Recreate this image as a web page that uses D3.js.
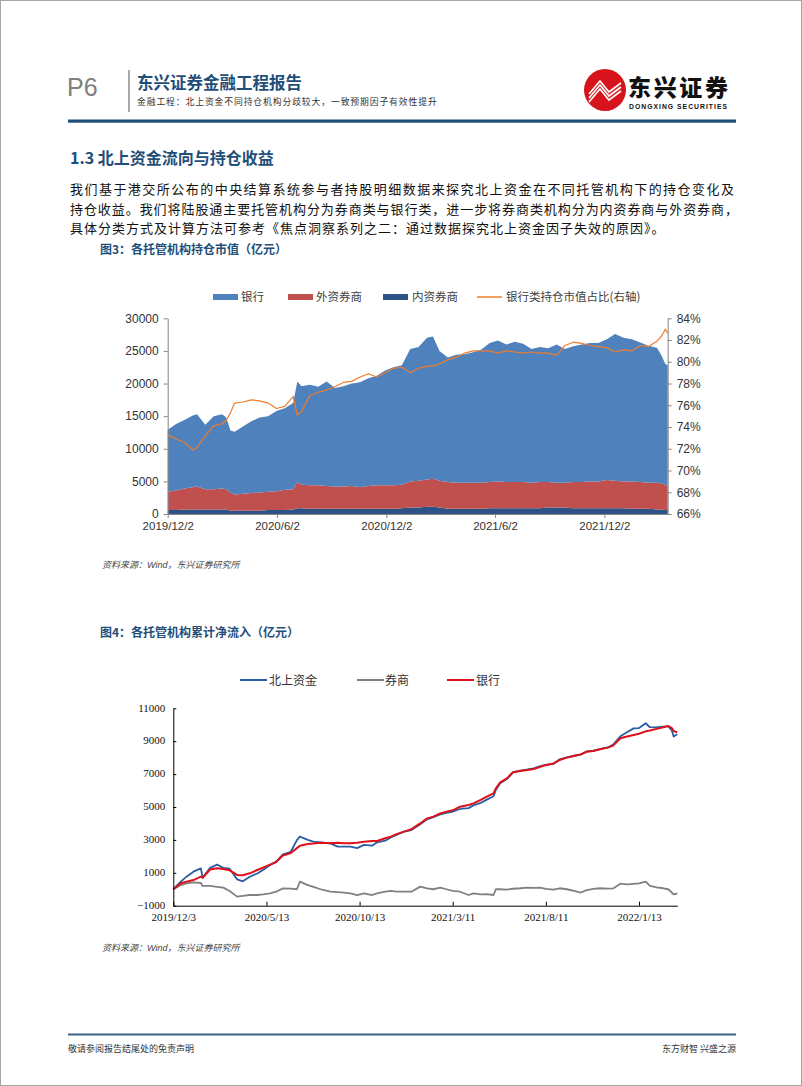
<!DOCTYPE html>
<html><head><meta charset="utf-8">
<script src="https://cdn.jsdelivr.net/npm/d3@7"></script>
<style>
html,body{margin:0;padding:0;background:#fff;}
svg{display:block;}
</style></head>
<body><svg id="page" width="802" height="1086"></svg>
<script>
// ---------------- DATA: chart 1 (各托管机构持仓市值, 亿元) ----------------
const dates1 = ["2019-12-02","2019-12-16","2019-12-30","2020-01-13","2020-01-20","2020-02-03","2020-02-17","2020-03-02","2020-03-09","2020-03-16","2020-03-23","2020-04-06","2020-04-20","2020-05-04","2020-05-18","2020-06-01","2020-06-15","2020-06-29","2020-07-06","2020-07-13","2020-07-27","2020-08-10","2020-08-24","2020-09-07","2020-09-21","2020-10-05","2020-10-19","2020-11-02","2020-11-16","2020-11-30","2020-12-14","2020-12-28","2021-01-11","2021-01-25","2021-02-08","2021-02-18","2021-03-01","2021-03-15","2021-03-29","2021-04-12","2021-04-26","2021-05-10","2021-05-24","2021-06-07","2021-06-21","2021-07-05","2021-07-19","2021-08-02","2021-08-16","2021-08-30","2021-09-13","2021-09-27","2021-10-11","2021-10-25","2021-11-08","2021-11-22","2021-12-06","2021-12-20","2022-01-03","2022-01-17","2022-01-31","2022-02-14","2022-02-28","2022-03-07","2022-03-14","2022-03-18"];
const bank1 = [9500,10200,10500,11000,11100,9900,11200,11400,11000,9500,9600,10300,11000,11500,11600,12300,12500,13200,15400,15100,15400,15100,16000,15100,15400,15700,16100,16500,16800,17600,18100,18300,20300,20500,21700,21800,19900,19100,19600,19700,20000,20400,21300,21600,21100,21500,21200,20500,20700,20500,21200,20500,20800,21100,21200,21200,21600,22500,22000,21800,21400,21000,20700,19700,18500,18500];
const foreign1 = [2800,3000,3200,3400,3500,3100,3100,3200,3100,2800,2500,2600,2700,2800,2800,2900,3100,3100,4000,3600,3600,3600,3500,3400,3400,3500,3300,3500,3600,3600,3600,3600,4000,4100,4200,4300,4100,4100,4000,4000,4000,4000,4000,4100,4000,4000,4000,3900,4000,3900,3800,3800,4000,4000,4100,4100,4300,4200,4100,4200,4100,4000,4100,4000,3900,3700];
const domestic1 = [600,600,700,700,700,700,700,700,700,500,500,500,500,500,600,600,600,700,900,900,800,800,800,800,800,800,800,800,800,800,800,900,1000,1000,1100,1100,1000,800,800,800,800,800,900,900,900,900,900,900,900,1000,1000,1000,900,900,900,900,900,900,900,800,800,800,700,700,600,600];
const ratio1 = [73.3,72.9,72.6,71.9,72.1,73.2,74.1,74.3,74.6,75.3,76.2,76.3,76.5,76.4,76.2,75.7,75.9,76.8,75.1,75.4,76.9,77.2,77.4,77.7,78.1,78.2,78.6,78.9,78.6,79.0,79.4,79.5,79.0,79.4,79.6,79.6,79.8,80.2,80.4,80.8,81.0,81.0,81.0,80.8,81.0,80.9,80.8,80.9,80.8,80.8,80.6,81.5,81.8,81.7,81.5,81.4,81.3,80.9,81.1,81.0,81.5,81.4,81.9,82.3,83.0,82.6];
const seriesNames1 = ["银行","外资券商","内资券商","银行类持仓市值占比(右轴)"];
const yTicks1 = [0,5000,10000,15000,20000,25000,30000];
const rTicks1 = [66,68,70,72,74,76,78,80,82,84];
const xTicks1 = ["2019-12-02","2020-06-02","2020-12-02","2021-06-02","2021-12-02"];
const xTickLabels1 = ["2019/12/2","2020/6/2","2020/12/2","2021/6/2","2021/12/2"];

// ---------------- DATA: chart 2 (各托管机构累计净流入, 亿元) ----------------
const dates2 = ["2019-12-03","2019-12-16","2019-12-26","2020-01-07","2020-01-20","2020-01-23","2020-02-05","2020-02-17","2020-02-28","2020-03-10","2020-03-23","2020-04-02","2020-04-14","2020-04-27","2020-05-07","2020-05-19","2020-05-29","2020-06-09","2020-06-22","2020-07-02","2020-07-07","2020-07-20","2020-07-29","2020-08-10","2020-08-26","2020-09-07","2020-09-17","2020-09-28","2020-10-09","2020-10-20","2020-11-02","2020-11-10","2020-11-23","2020-12-02","2020-12-11","2020-12-23","2021-01-04","2021-01-18","2021-01-29","2021-02-08","2021-02-19","2021-03-01","2021-03-11","2021-03-23","2021-04-06","2021-04-14","2021-04-26","2021-05-06","2021-05-17","2021-05-21","2021-05-28","2021-06-08","2021-06-18","2021-06-30","2021-07-12","2021-07-22","2021-08-02","2021-08-11","2021-08-24","2021-09-03","2021-09-15","2021-09-27","2021-10-08","2021-10-18","2021-10-29","2021-11-09","2021-11-22","2021-12-01","2021-12-13","2021-12-24","2022-01-04","2022-01-13","2022-01-24","2022-01-31","2022-02-11","2022-02-22","2022-03-02","2022-03-08","2022-03-11","2022-03-17"];
const north2 = [0,460,765,1070,1270,700,1300,1500,1300,1250,600,480,760,960,1170,1470,1680,2120,2280,2990,3200,3000,2890,2850,2790,2590,2590,2590,2500,2700,2650,2850,2950,3150,3300,3500,3600,3950,4250,4380,4550,4650,4720,4880,4930,5100,5250,5450,5650,6050,6450,6700,7100,7210,7280,7350,7480,7560,7620,7900,8020,8100,8180,8380,8420,8520,8620,8800,9300,9540,9780,9800,10090,9850,9840,9880,9900,9650,9280,9420];
const broker2 = [0,250,360,420,380,200,200,150,100,-110,-450,-400,-350,-350,-310,-250,-150,55,40,0,460,250,150,0,-150,-180,-200,-250,-350,-250,-350,-250,-150,-100,-150,-150,-150,160,50,0,100,0,-100,-150,-350,-250,-310,-300,-350,0,0,-20,30,60,100,80,100,20,-20,60,0,-100,-200,-50,20,60,40,50,340,300,330,360,460,200,120,60,0,-200,-310,-250];
const bankFlow2 = [0,360,460,560,765,700,1200,1270,1230,1150,870,850,970,1170,1310,1500,1650,2050,2200,2500,2650,2750,2780,2830,2800,2830,2790,2800,2830,2890,2930,2930,3100,3200,3350,3500,3650,4000,4310,4410,4610,4720,4800,5020,5120,5220,5430,5630,5830,6140,6500,6740,7110,7190,7250,7310,7450,7550,7650,7860,8000,8120,8200,8360,8400,8510,8610,8730,9180,9280,9380,9450,9600,9650,9750,9850,9930,9800,9620,9540];
const seriesNames2 = ["北上资金","券商","银行"];
const yTicks2 = [-1000,1000,3000,5000,7000,9000,11000];
const xTicks2 = ["2019-12-03","2020-05-13","2020-10-13","2021-03-11","2021-08-11","2022-01-13"];
const xTickLabels2 = ["2019/12/3","2020/5/13","2020/10/13","2021/3/11","2021/8/11","2022/1/13"];

// ---------------- TEXTS ----------------
const headerTitle = "东兴证券金融工程报告";
const headerSub = "金融工程：北上资金不同持仓机构分歧较大，一致预期因子有效性提升";
const sectionTitle = "1.3 北上资金流向与持仓收益";
const paraLines = [
  "我们基于港交所公布的中央结算系统参与者持股明细数据来探究北上资金在不同托管机构下的持仓变化及",
  "持仓收益。我们将陆股通主要托管机构分为券商类与银行类，进一步将券商类机构分为内资券商与外资券商，",
  "具体分类方式及计算方法可参考《焦点洞察系列之二：通过数据探究北上资金因子失效的原因》。"
];
const caption1 = "图3：各托管机构持仓市值（亿元）";
const caption2 = "图4：各托管机构累计净流入（亿元）";

// ---------------- DRAW ----------------
const svg = d3.select("#page");
const CJK = "'Noto Sans CJK SC','Noto Sans',sans-serif";
const SANS = "'Liberation Sans',Arial,'Noto Sans CJK SC',sans-serif";
const SERIF = "'Liberation Serif','Times New Roman','Noto Sans CJK SC',serif";
const NAVY = "#1f4e79";
const parse = d3.utcParse("%Y-%m-%d");

svg.append("rect").attr("x",0.5).attr("y",0.5).attr("width",801).attr("height",1085)
  .attr("fill","none").attr("stroke","#a6a6a6");

// header
svg.append("text").attr("x",67).attr("y",96).text("P6")
  .attr("font-family",SANS).attr("font-size",25).attr("fill","#808080");
svg.append("line").attr("x1",129).attr("x2",129).attr("y1",70).attr("y2",112)
  .attr("stroke","#8c8c8c").attr("stroke-width",1.5);
svg.append("text").attr("x",137).attr("y",89).text(headerTitle)
  .attr("font-family",CJK).attr("font-size",16.5).attr("font-weight","bold").attr("fill",NAVY);
svg.append("text").attr("x",137).attr("y",104.5).text(headerSub)
  .attr("font-family",CJK).attr("font-size",8.8).attr("letter-spacing",0.9).attr("fill","#333");

// logo
const logo = svg.append("g").attr("transform","translate(605,90)");
logo.append("circle").attr("r",21).attr("fill","#d7131c");
const stripes = [[-16,4,-5,-9,4,2,16,-7],[-16,8,-5,-5,4,6,16,-3],[-16,12,-5,-1,4,10,16,1]];
stripes.forEach(s=>{
  logo.append("polyline").attr("points",[[s[0],s[1]],[s[2],s[3]],[s[4],s[5]],[s[6],s[7]]].map(p=>p.join(",")).join(" "))
    .attr("fill","none").attr("stroke","#fff").attr("stroke-width",1.7);
});
svg.append("text").attr("x",628).attr("y",96).text("东兴证券")
  .attr("font-family",CJK).attr("font-size",23).attr("font-weight",900).attr("fill","#111")
  .attr("textLength",100).attr("lengthAdjust","spacing");
svg.append("text").attr("x",629).attr("y",108.5).text("DONGXING SECURITIES")
  .attr("font-family",SANS).attr("font-size",6.8).attr("font-weight","bold").attr("fill","#111")
  .attr("textLength",98).attr("lengthAdjust","spacing");

svg.append("rect").attr("x",68).attr("y",119.5).attr("width",668).attr("height",3.2).attr("fill",NAVY);

// section title & paragraph
svg.append("text").attr("x",70).attr("y",164).text(sectionTitle)
  .attr("font-family",CJK).attr("font-size",16).attr("font-weight","bold").attr("fill",NAVY);
const paraY = [194, 213.5, 232.5];
paraLines.forEach((t,i)=>{
  const tx = svg.append("text").attr("x",70).attr("y",paraY[i]).text(t)
    .attr("font-family",CJK).attr("font-size",13).attr("fill","#111");
  if(i<2) tx.attr("textLength", i===0?664:668).attr("lengthAdjust","spacing");
  else tx.attr("letter-spacing",1.0);
});

function caption(t,y){
  svg.append("text").attr("x",100).attr("y",y).text(t)
    .attr("font-family",CJK).attr("font-size",12).attr("font-weight","bold").attr("fill",NAVY);
}
caption(caption1,254);
caption(caption2,636.5);

function source(y){
  const t = svg.append("text").attr("x",102).attr("y",y)
    .attr("font-family",CJK).attr("font-size",9).attr("font-style","italic").attr("fill","#444");
  t.append("tspan").text("资料来源：");
  t.append("tspan").attr("font-family",SANS).text("Wind");
  t.append("tspan").text("，东兴证券研究所");
}
source(568);
source(951);

// footer
svg.append("rect").attr("x",68).attr("y",1033.5).attr("width",668).attr("height",2).attr("fill","#3f6183");
svg.append("text").attr("x",68).attr("y",1052).text("敬请参阅报告结尾处的免责声明")
  .attr("font-family",CJK).attr("font-size",9).attr("fill","#333");
svg.append("text").attr("x",736).attr("y",1052).attr("text-anchor","end").text("东方财智 兴盛之源")
  .attr("font-family",CJK).attr("font-size",9).attr("fill","#333");

// ---------------- CHART 1 ----------------
{
  const L = 167.7, T = 318.3, W = 500, H = 195.7;
  const g = svg.append("g").attr("transform",`translate(${L},${T})`);
  const x = d3.scaleUtc().domain([parse(dates1[0]), parse(dates1[dates1.length-1])]).range([0,W]);
  const y = d3.scaleLinear().domain([0,30000]).range([H,0]);
  const yr = d3.scaleLinear().domain([66,84]).range([H,0]);
  const rows = dates1.map((d,i)=>({date:parse(d), domestic:domestic1[i], foreign:foreign1[i], bank:bank1[i]}));
  const stacked = d3.stack().keys(["domestic","foreign","bank"])(rows);
  const colors = {bank:"#4f81bd", foreign:"#c0504d", domestic:"#2d5286"};
  const area = d3.area().x(d=>x(d.data.date)).y0(d=>y(d[0])).y1(d=>y(d[1]));
  g.selectAll("path.ar").data(stacked).join("path").attr("class","ar")
    .attr("d",area).attr("fill",d=>colors[d.key]);
  const line = d3.line().x((d,i)=>x(parse(dates1[i]))).y(d=>yr(d));
  g.append("path").datum(ratio1).attr("d",line).attr("fill","none")
    .attr("stroke","#ee7d2c").attr("stroke-width",1.2).attr("stroke-linejoin","round");

  const styleAxis = (sel, col)=>{
    sel.select(".domain").attr("stroke",col);
    sel.selectAll(".tick line").attr("stroke",col);
    sel.selectAll(".tick text").attr("font-family",SANS).attr("font-size",12).attr("fill","#333");
  };
  const ax = g.append("g").call(d3.axisLeft(y).tickValues(yTicks1).tickSize(4).tickSizeOuter(0).tickPadding(5).tickFormat(d3.format("d")));
  styleAxis(ax,"#868686");
  const axr = g.append("g").attr("transform",`translate(${W},0)`)
    .call(d3.axisRight(yr).tickValues(rTicks1).tickSize(4).tickSizeOuter(0).tickPadding(5).tickFormat(d=>d+"%"));
  styleAxis(axr,"#868686");
  const axb = g.append("g").attr("transform",`translate(0,${H})`)
    .call(d3.axisBottom(x).tickValues(xTicks1.map(parse)).tickSize(4).tickSizeOuter(0).tickPadding(4).tickFormat((d,i)=>xTickLabels1[i]));
  styleAxis(axb,"#868686");
  axb.selectAll(".tick text").attr("font-size",11.5);

  // legend
  const leg = svg.append("g").attr("font-family",CJK).attr("font-size",11.5).attr("fill","#404040");
  const legItems = [
    {type:"rect", color:colors.bank, sx:213, tx:241},
    {type:"rect", color:colors.foreign, sx:288, tx:316},
    {type:"rect", color:colors.domestic, sx:383, tx:412},
    {type:"line", color:"#ee7d2c", sx:477, tx:506}
  ];
  legItems.forEach((it,i)=>{
    if(it.type==="rect") leg.append("rect").attr("x",it.sx).attr("y",294).attr("width",25).attr("height",6).attr("fill",it.color);
    else leg.append("line").attr("x1",it.sx).attr("x2",it.sx+25).attr("y1",297).attr("y2",297).attr("stroke",it.color).attr("stroke-width",1.5);
    leg.append("text").attr("x",it.tx).attr("y",301).text(seriesNames1[i]);
  });
}

// ---------------- CHART 2 ----------------
{
  const L = 173.3, T = 708.3, W = 504, H = 197.4, step = 93.14;
  const g = svg.append("g").attr("transform",`translate(${L},${T})`);
  const stops = xTicks2.map(parse).concat([parse(dates2[dates2.length-1])]);
  const x = d3.scaleUtc().domain(stops).range(xTicks2.map((d,i)=>i*step).concat([W]));
  const y = d3.scaleLinear().domain([-1000,11000]).range([H,0]);
  const cols = {north:"#2a5ea3", broker:"#808080", bank:"#e0101a"};
  const mk = arr => d3.line().x((d,i)=>x(parse(dates2[i]))).y(d=>y(d))(arr);
  g.append("path").attr("d",mk(broker2)).attr("fill","none").attr("stroke",cols.broker).attr("stroke-width",1.8).attr("stroke-linejoin","round");
  g.append("path").attr("d",mk(north2)).attr("fill","none").attr("stroke",cols.north).attr("stroke-width",1.8).attr("stroke-linejoin","round");
  g.append("path").attr("d",mk(bankFlow2)).attr("fill","none").attr("stroke",cols.bank).attr("stroke-width",2).attr("stroke-linejoin","round");

  const styleAxis = sel=>{
    sel.select(".domain").attr("stroke","#000");
    sel.selectAll(".tick line").attr("stroke","#000");
    sel.selectAll(".tick text").attr("font-family",SERIF).attr("font-size",11).attr("fill","#111");
  };
  const ax = g.append("g").call(d3.axisLeft(y).tickValues(yTicks2).tickSize(-3).tickSizeOuter(0).tickPadding(8).tickFormat(d3.format("d")));
  styleAxis(ax);
  ax.selectAll(".tick text").attr("dy","0.25em");
  const axb = g.append("g").attr("transform",`translate(0,${H})`)
    .call(d3.axisBottom(x).tickValues(xTicks2.map(parse)).tickSize(-4).tickSizeOuter(0).tickPadding(8).tickFormat((d,i)=>xTickLabels2[i]));
  styleAxis(axb);

  const leg = svg.append("g").attr("font-family",CJK).attr("font-size",12).attr("fill","#333");
  const legItems = [{c:cols.north, sx:240, tx:269},{c:cols.broker, sx:357, tx:385},{c:cols.bank, sx:447, tx:476}];
  legItems.forEach((it,i)=>{
    leg.append("line").attr("x1",it.sx).attr("x2",it.sx+27).attr("y1",680).attr("y2",680).attr("stroke",it.c).attr("stroke-width",2);
    leg.append("text").attr("x",it.tx).attr("y",684.5).text(seriesNames2[i]);
  });
}
</script>
</body></html>
